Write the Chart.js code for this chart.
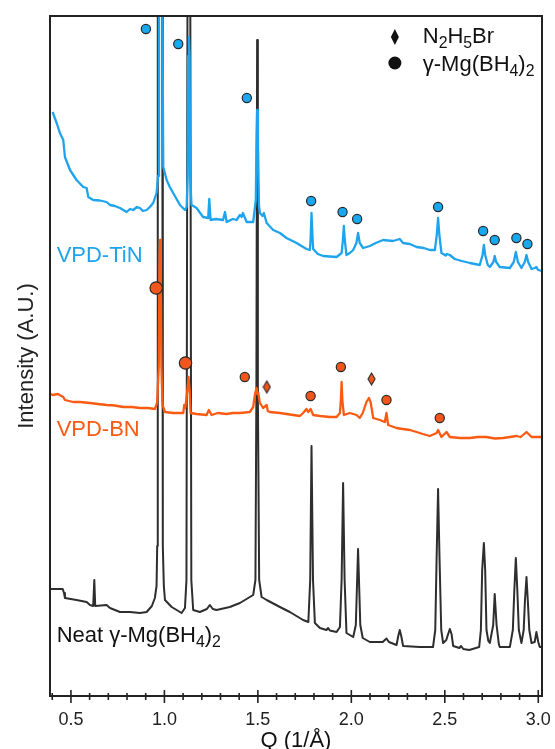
<!DOCTYPE html>
<html><head><meta charset="utf-8">
<script src="https://cdn.jsdelivr.net/npm/chart.js@4.4.1/dist/chart.umd.min.js"></script>
<style>html,body{margin:0;padding:0;background:#fff;overflow:hidden}canvas{display:block}</style>
</head><body>
<canvas id="c" width="555" height="749"></canvas>
<script>
// ---------- data (Q in 1/Å, intensity in arbitrary units) ----------
const qNeat=[0.390,0.456,0.463,0.468,0.530,0.584,0.602,0.619,0.625,0.630,0.691,0.709,0.762,0.816,0.869,0.905,0.933,0.949,0.958,0.9615,0.9645,0.977,0.9885,0.9915,0.997,1.003,1.039,1.092,1.110,1.118,1.1235,1.131,1.1385,1.144,1.154,1.190,1.227,1.243,1.259,1.279,1.350,1.404,1.475,1.487,1.492,1.496,1.500,1.507,1.520,1.547,1.618,1.671,1.742,1.770,1.780,1.787,1.795,1.805,1.832,1.867,1.876,1.885,1.921,1.939,1.948,1.956,1.964,1.974,2.010,2.024,2.036,2.048,2.061,2.099,2.168,2.188,2.201,2.242,2.251,2.259,2.267,2.277,2.366,2.437,2.449,2.456,2.464,2.472,2.481,2.491,2.508,2.518,2.527,2.536,2.545,2.578,2.587,2.599,2.631,2.684,2.693,2.700,2.709,2.716,2.723,2.733,2.741,2.759,2.767,2.777,2.789,2.794,2.848,2.864,2.872,2.880,2.888,2.896,2.910,2.922,2.929,2.937,2.944,2.952,2.964,2.981,2.990,3.000,3.008,3.019];
const iNeat=[107,107,103,98,96,94,91,90,116,90,91,88,84,84,83,84,90,98,110,150,700,720,700,150,110,96,89,83,88,116,700,720,700,116,86,84,87,91,87,86,89,93,101,116,300,656,300,116,99,96,89,84,76,74,116,250,116,73,68,66,68,65.5,64,69,116,213,116,63,59,71,147,71,58,54,54,57.5,54,51,60,66,60,50,49,49,66,136,207,136,66,53,56,62,67,62,50,48,50,47,46,49,66,126,153,126,66,55,53,71,102,71,52,49,49,66,106,138,106,66,53,66,96,119,96,66,53,54,64,54,49,49];

const qTiN=[0.402,0.4235,0.441,0.459,0.468,0.495,0.530,0.566,0.584,0.593,0.619,0.655,0.691,0.709,0.735,0.762,0.798,0.816,0.833,0.853,0.869,0.885,0.905,0.922,0.940,0.958,0.966,0.971,0.980,0.989,0.994,1.012,1.029,1.047,1.083,1.110,1.119,1.1245,1.127,1.131,1.135,1.1375,1.145,1.172,1.207,1.234,1.240,1.247,1.275,1.314,1.324,1.333,1.366,1.386,1.404,1.413,1.420,1.440,1.475,1.489,1.493,1.496,1.500,1.506,1.511,1.525,1.532,1.547,1.582,1.618,1.653,1.707,1.760,1.778,1.782,1.787,1.793,1.796,1.821,1.849,1.885,1.921,1.948,1.955,1.960,1.965,1.974,1.992,2.010,2.027,2.036,2.045,2.063,2.099,2.131,2.170,2.223,2.259,2.277,2.313,2.349,2.388,2.420,2.447,2.457,2.464,2.471,2.482,2.505,2.511,2.527,2.553,2.591,2.634,2.687,2.702,2.709,2.716,2.730,2.741,2.760,2.767,2.775,2.794,2.848,2.869,2.880,2.891,2.910,2.928,2.937,2.946,2.964,2.981,2.990,2.999,3.019];
const iTiN=[584,573,563,556,539,526,516,509,508,499,496,495.5,494,491,490,488,484,487,486,489,488,485,486,489,493,503,520,700,720,700,529,516,509,503,491,486,489,520,640,659,640,520,491,488,479,478,497,476,477,476,484,474,477,476,481,479,483,474,474,496,560,586,560,490,483,480,483,473,466,463,458,453,447,446,456,483,456,447,442,440,439.5,439,443,456,470,456,441,443,446,453,463,453,448,450,453,456,455,457,453,452,449,448,446,446,461,478,461,443,440.5,442,441,437,435,433,431,441,451,441,431,429,434,440,434,429,428,434,444,434,428,434,441,434,427,428,429,426,425];

const qBN=[0.390,0.402,0.430,0.459,0.468,0.512,0.548,0.602,0.644,0.691,0.735,0.780,0.826,0.869,0.912,0.949,0.961,0.970,0.974,0.977,0.980,0.984,0.990,1.003,1.047,1.101,1.106,1.112,1.123,1.129,1.135,1.140,1.172,1.226,1.238,1.252,1.286,1.333,1.366,1.404,1.457,1.475,1.484,1.493,1.497,1.502,1.511,1.528,1.547,1.553,1.564,1.618,1.689,1.725,1.742,1.760,1.769,1.782,1.796,1.832,1.885,1.921,1.939,1.944,1.948,1.952,1.960,1.976,1.992,2.028,2.045,2.061,2.081,2.094,2.103,2.110,2.117,2.153,2.179,2.188,2.197,2.242,2.275,2.313,2.349,2.382,2.420,2.456,2.464,2.482,2.509,2.527,2.580,2.634,2.677,2.723,2.767,2.812,2.848,2.883,2.906,2.937,2.964,3.019];
const iBN=[302,301,302,299,296,294,294,293,292,291,290.5,289,289,288,288,287,293,330,440,456,440,330,291,284,283,283,291,288,306,319,306,283,282,281,286,281,283,282,283,283,284,289,301,308,302,303,293,288,291,285,284,283,281,280,283,287,284,287,281,280,279,279,283,296,314,296,281,282,283,281,278,283,294,298,294,286,278,276,274,283,271,268,267,266,264,262,260,263,266,259,264,259,258,258,259,259,257.5,258,259,260,259,264,259,259];

// phase markers
const qTiNMarks=[0.901,1.074,1.441,1.785,1.953,2.031,2.464,2.705,2.767,2.883,2.942];
const iTiNMarks=[667,652,598,495,484,477,489,465,456,458,452];
const qBNMarksBig=[0.956,1.113];
const iBNMarksBig=[408,333];
const qBNMarks=[1.430,1.782,1.944,2.188,2.473];
const iBNMarks=[319,300,329,296,278];
const qBNHydrazine=[1.548,2.108];
const iBNHydrazine=[309,317];

// axis ticks
const majorTicks=[0.5,1.0,1.5,2.0,2.5,3.0];
const tickLabels=['0.5','1.0','1.5','2.0','2.5','3.0'];
const minorTicks=[0.4,0.6,0.7,0.8,0.9,1.1,1.2,1.3,1.4,1.6,1.7,1.8,1.9,2.1,2.2,2.3,2.4,2.6,2.7,2.8,2.9];

const seriesLabels=['VPD-TiN','VPD-BN'];
const neatLabel=[['Neat γ-Mg(BH',0],['4',1],[')',0],['2',1]];
const legendN2H5Br=[['N',0],['2',1],['H',0],['5',1],['Br',0]];
const legendMgBH4=[['γ-Mg(BH',0],['4',1],[')',0],['2',1]];

// ---------- styling ----------
const FONT='"Liberation Sans", Arial, Helvetica, sans-serif';
const BLUE='#1ea4ec', ORANGE='#fb5a12', BLACK='#2e2e2e', EDGE='#2a2a2a';
const BLUE_FILL='#18a8f0', ORANGE_FILL='#f2561a';

function pts(qs,is){return qs.map((q,k)=>({x:q,y:is[k]}));}
function makeDiamond(w,h,fill){
  const c=document.createElement('canvas'); c.width=w+2; c.height=h+2;
  const g=c.getContext('2d'); const cx=c.width/2, cy=c.height/2;
  g.beginPath(); g.moveTo(cx,cy-h/2); g.lineTo(cx+w/2,cy); g.lineTo(cx,cy+h/2); g.lineTo(cx-w/2,cy); g.closePath();
  g.fillStyle=fill; g.fill(); g.lineWidth=1.1; g.strokeStyle=EDGE; g.stroke();
  return c;
}
const diamondOrange=makeDiamond(7,12,ORANGE_FILL);

function drawRich(ctx,x,y,parts,size,color){
  ctx.save(); ctx.fillStyle=color; ctx.textBaseline='alphabetic'; ctx.textAlign='left';
  for(const [t,sub] of parts){
    const fs=sub?size*0.72:size;
    ctx.font=fs+'px '+FONT;
    ctx.fillText(t,x,y+(sub?size*0.24:0));
    x+=ctx.measureText(t).width;
  }
  ctx.restore();
}

const decor={
  id:'decor',
  afterDraw(chart){
    const {ctx,chartArea:a,scales:{x,y}}=chart;
    ctx.save();
    ctx.setLineDash([]); ctx.globalAlpha=1;
    // frame
    ctx.strokeStyle='#222'; ctx.lineWidth=2;
    ctx.strokeRect(a.left,a.top,a.right-a.left,a.bottom-a.top);
    // tick marks crossing the bottom axis
    ctx.lineWidth=1.6;
    for(const t of x.ticks){
      const px=x.getPixelForValue(t.value);
      const major=majorTicks.some(m=>Math.abs(m-t.value)<1e-6);
      ctx.beginPath();
      ctx.moveTo(px,a.bottom-(major?6:3));
      ctx.lineTo(px,a.bottom+(major?7:4));
      ctx.stroke();
    }
    // series labels
    const lx=x.getPixelForValue(0.4235);
    ctx.font='22px '+FONT; ctx.textBaseline='alphabetic'; ctx.textAlign='left';
    ctx.fillStyle=BLUE; ctx.fillText(seriesLabels[0],lx,y.getPixelForValue(434));
    ctx.fillStyle=ORANGE; ctx.fillText(seriesLabels[1],lx,y.getPixelForValue(260));
    drawRich(ctx,lx,y.getPixelForValue(54),neatLabel,22,'#111');
    // legend
    const mx=x.getPixelForValue(2.233), tx=x.getPixelForValue(2.382);
    const d1=y.getPixelForValue(659), d2=y.getPixelForValue(633);
    ctx.beginPath(); ctx.moveTo(mx,d1-8); ctx.lineTo(mx+4,d1); ctx.lineTo(mx,d1+8); ctx.lineTo(mx-4,d1); ctx.closePath();
    ctx.fillStyle='#111'; ctx.fill();
    ctx.beginPath(); ctx.arc(mx,d2,6.5,0,Math.PI*2); ctx.fill();
    drawRich(ctx,tx,y.getPixelForValue(653),legendN2H5Br,22,'#111');
    drawRich(ctx,tx,y.getPixelForValue(625),legendMgBH4,22,'#111');
    ctx.restore();
  }
};

const lineDs=(label,qs,is,color,w,order)=>({label,data:pts(qs,is),showLine:true,borderColor:color,borderWidth:w,pointRadius:0,tension:0,clip:0,order,borderJoinStyle:'round'});
const markDs=(label,qs,is,fill,r,order,style)=>({label,data:pts(qs,is),showLine:false,pointStyle:style||'circle',pointRadius:r,pointBackgroundColor:fill,pointBorderColor:EDGE,pointBorderWidth:1.2,order,clip:8});

new Chart(document.getElementById('c'),{
  type:'scatter',
  data:{datasets:[
    markDs('TiN markers',qTiNMarks,iTiNMarks,BLUE_FILL,4.6,0),
    markDs('BN markers big',qBNMarksBig,iBNMarksBig,ORANGE_FILL,6.2,0),
    markDs('BN markers',qBNMarks,iBNMarks,ORANGE_FILL,4.6,0),
    markDs('N2H5Br',qBNHydrazine,iBNHydrazine,ORANGE_FILL,6,0,diamondOrange),
    lineDs('VPD-TiN',qTiN,iTiN,BLUE,2.3,1),
    lineDs('VPD-BN',qBN,iBN,ORANGE,2.3,2),
    lineDs('Neat',qNeat,iNeat,BLACK,2,3)
  ]},
  options:{
    responsive:false,devicePixelRatio:1,animation:false,
    layout:{padding:{left:12,right:13,top:16,bottom:0}},
    plugins:{legend:{display:false},tooltip:{enabled:false}},
    scales:{
      x:{type:'linear',min:0.388,max:3.02,
        grid:{display:true,drawOnChartArea:false,drawTicks:true,tickLength:13,tickColor:'rgba(0,0,0,0)'},border:{display:false},
        afterBuildTicks:(s)=>{s.ticks=[...majorTicks,...minorTicks].sort((a,b)=>a-b).map(v=>({value:v}));},
        afterFit:(s)=>{s.height=53;},
        ticks:{autoSkip:false,maxRotation:0,padding:0,color:'#222',font:{family:FONT,size:18},
          callback:(v)=>{const k=majorTicks.findIndex(m=>Math.abs(m-v)<1e-6);return k>=0?tickLabels[k]:'';}},
        title:{display:true,text:'Q (1/Å)',color:'#111',font:{family:FONT,size:22,lineHeight:1},padding:{top:0,bottom:-3}}
      },
      y:{type:'linear',min:0,max:680,
        grid:{display:false,drawTicks:false},border:{display:false},
        ticks:{display:false},
        afterFit:(s)=>{s.width=38;},
        title:{display:true,text:'Intensity (A.U.)',color:'#222',font:{family:FONT,size:22,lineHeight:1.2},padding:{top:2,bottom:0}}
      }
    }
  },
  plugins:[decor]
});
</script>
</body></html>
